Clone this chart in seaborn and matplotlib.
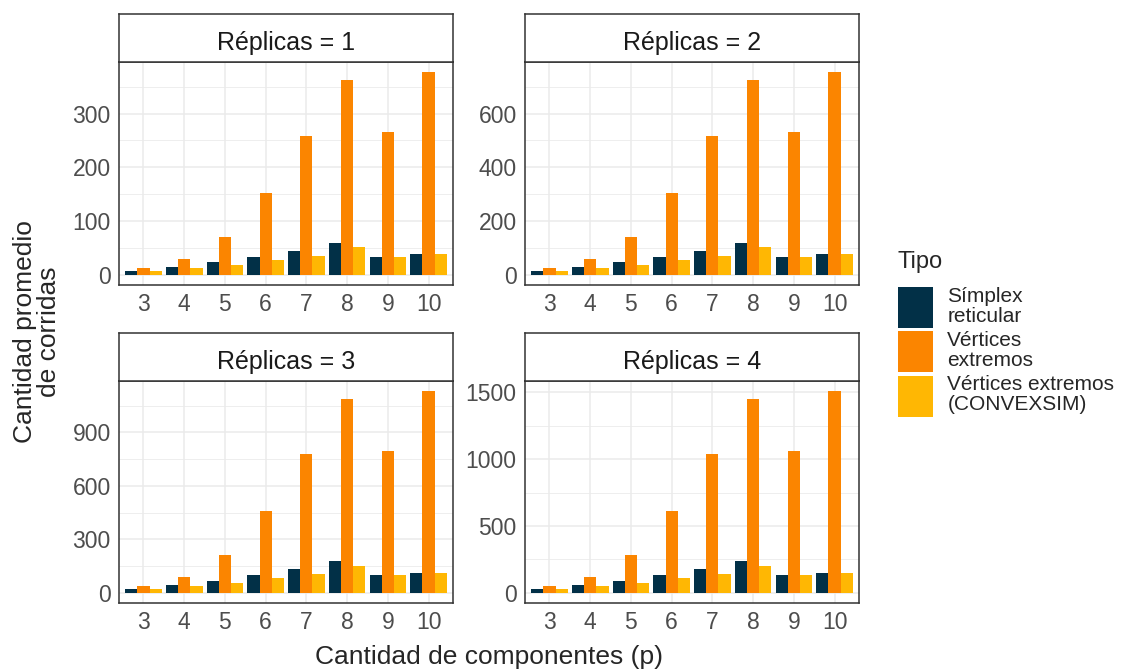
"""Average number of runs per mixture design type, faceted by replicates."""

import matplotlib.pyplot as plt
import pandas as pd
import seaborn as sns
from matplotlib.ticker import AutoMinorLocator, MultipleLocator

COMPONENTS = [3, 4, 5, 6, 7, 8, 9, 10]
TIPOS = ["Símplex\nreticular", "Vértices\nextremos", "Vértices extremos\n(CONVEXSIM)"]
REPLICAS = [1, 2, 3, 4]

# values, one list per design type and replicate count
SIMPLEX = {
    1: [8, 15, 23, 33, 45, 60, 33, 38],
    2: [16, 30, 46, 66, 90, 120, 66, 76],
    3: [24, 45, 69, 99, 135, 180, 99, 114],
    4: [32, 60, 92, 132, 180, 240, 132, 152],
}
VERTICES = {
    1: [13, 30, 71, 153, 259, 363, 265, 377],
    2: [26, 60, 142, 306, 518, 726, 530, 754],
    3: [39, 90, 213, 459, 777, 1089, 795, 1131],
    4: [52, 120, 284, 612, 1036, 1452, 1060, 1508],
}
CONVEXSIM = {
    1: [8, 12, 18, 27, 36, 51, 33, 38],
    2: [16, 24, 36, 54, 72, 102, 66, 76],
    3: [24, 36, 54, 81, 108, 153, 99, 114],
    4: [32, 48, 72, 108, 144, 204, 132, 152],
}

COLORS = ["#023047", "#FB8500", "#FFB703"]
Y_TICK_STEP = {1: 100, 2: 200, 3: 300, 4: 500}

W, H = 1122, 671
# panel boxes in pixels: left, right, top, bottom
PANELS = {
    1: (119, 453, 62, 285),
    2: (525, 859, 62, 285),
    3: (119, 453, 381, 603),
    4: (525, 859, 381, 603),
}
STRIP_H = 48


def build_dataframe() -> pd.DataFrame:
    rows = []
    for r in REPLICAS:
        for tipo, series in zip(TIPOS, [SIMPLEX, VERTICES, CONVEXSIM]):
            for p, value in zip(COMPONENTS, series[r]):
                rows.append({"Réplicas": r, "p": p, "Tipo": tipo, "corridas": value})
    return pd.DataFrame(rows)


def main() -> None:
    sns.set_style("white")
    plt.rcParams["font.family"] = ["Liberation Sans", "DejaVu Sans"]

    df = build_dataframe()
    fig = plt.figure(figsize=(W / 100, H / 100), dpi=100)

    handles, labels = None, None
    for r in REPLICAS:
        left, right, top, bottom = PANELS[r]
        ax = fig.add_axes([left / W, 1 - bottom / H, (right - left) / W, (bottom - top) / H])
        sub = df[df["Réplicas"] == r]
        sns.barplot(
            data=sub,
            x="p",
            y="corridas",
            hue="Tipo",
            hue_order=TIPOS,
            palette=COLORS,
            width=0.9,
            saturation=1,
            linewidth=0,
            ax=ax,
        )
        if handles is None:
            handles, labels = ax.get_legend_handles_labels()
        ax.get_legend().remove()

        ymax = sub["corridas"].max()
        ax.set_ylim(-0.05 * ymax, 1.05 * ymax)
        ax.set_xlim(-0.6, len(COMPONENTS) - 0.4)
        ax.yaxis.set_major_locator(MultipleLocator(Y_TICK_STEP[r]))
        ax.yaxis.set_minor_locator(AutoMinorLocator(2))
        ax.set_axisbelow(True)
        ax.grid(which="major", color="#EBEBEB", linewidth=1.1)
        ax.grid(which="minor", axis="y", color="#EBEBEB", linewidth=0.6)
        ax.tick_params(which="major", length=4, width=1.1, color="#333333",
                       labelcolor="#4D4D4D", labelsize=16.5, pad=2)
        ax.tick_params(which="minor", length=0)
        ax.set_xlabel("")
        ax.set_ylabel("")
        for spine in ax.spines.values():
            spine.set_color("#333333")
            spine.set_linewidth(1.1)

        strip = fig.add_axes([left / W, 1 - top / H, (right - left) / W, STRIP_H / H])
        strip.set_xticks([])
        strip.set_yticks([])
        strip.set_facecolor("white")
        for spine in strip.spines.values():
            spine.set_color("#333333")
            spine.set_linewidth(1.1)
        strip.text(0.5, 0.44, f"Réplicas = {r}", ha="center", va="center_baseline",
                   fontsize=18, color="#1A1A1A", transform=strip.transAxes)

    fig.text(489 / W, 1 - 657 / H, "Cantidad de componentes (p)",
             ha="center", va="center", fontsize=19)
    fig.text(37 / W, 1 - 332 / H, "Cantidad promedio\nde corridas", rotation=90,
             ha="center", va="center", fontsize=19, linespacing=1.05)

    # legend title drawn apart so its gap to the keys matches ggplot's
    fig.text(897 / W, 1 - 262 / H, "Tipo", ha="left", va="center", fontsize=17)
    legend = fig.legend(
        handles,
        labels,
        loc="upper left",
        bbox_to_anchor=(898 / W, 1 - 287 / H),
        frameon=False,
        fontsize=15,
        handlelength=1.67,
        handleheight=2.65,
        labelspacing=0.15,
        handletextpad=0.7,
        borderpad=0,
        borderaxespad=0,
    )
    for text in legend.get_texts():
        text.set_linespacing(1.05)

    fig.savefig("out.png", dpi=100)
    plt.close(fig)


if __name__ == "__main__":
    main()
